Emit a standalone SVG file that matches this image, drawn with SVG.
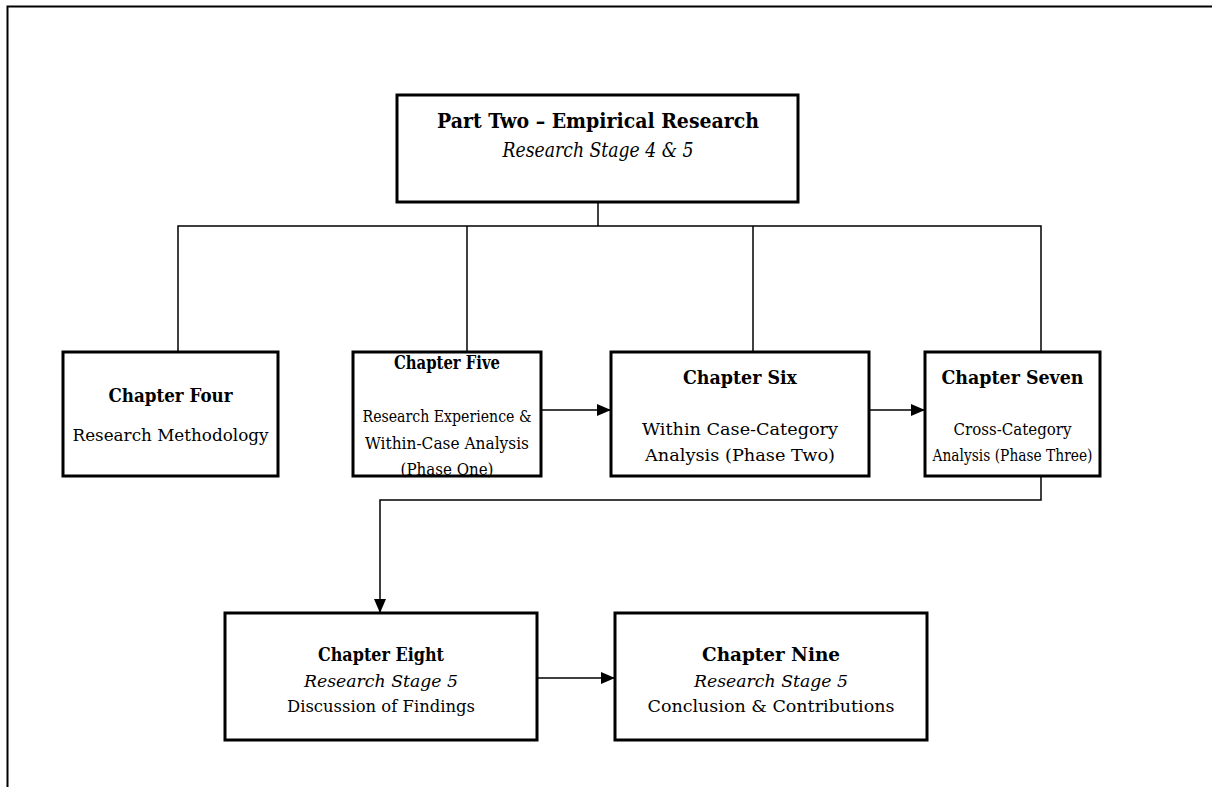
<svg xmlns="http://www.w3.org/2000/svg" width="1212" height="787" viewBox="0 0 1212 787">
  <style>
    .box { fill: #ffffff; stroke: #000000; stroke-width: 3; }
    .wire { fill: none; stroke: #000000; stroke-width: 1.5; }
    .frame { fill: none; stroke: #000000; stroke-width: 2; }
    text { font-family: "DejaVu Serif", "Liberation Serif", serif; fill: #000000; text-anchor: middle; }
    .h { font-weight: bold; font-size: 18px; }
    .t { font-size: 17.5px; }
    .i { font-style: italic; font-size: 17.5px; }
    .big { font-weight: bold; font-size: 20px; }
    .bigi { font-style: italic; font-size: 20px; }
  </style>
  <defs>
    <marker id="arrow" markerWidth="14" markerHeight="12" refX="14" refY="6" orient="auto" markerUnits="userSpaceOnUse">
      <path d="M0,0 L14,6 L0,12 Z" fill="#000000"/>
    </marker>
  </defs>

  <rect width="1212" height="787" fill="#ffffff"/>
  <!-- page frame -->
  <path class="frame" d="M7.5,787 V6.5 H1212"/>

  <!-- connectors -->
  <g id="connectors">
    <path class="wire" d="M598,202 V226"/>
    <path class="wire" d="M178,352 V226 H1041 V352"/>
    <path class="wire" d="M467,226 V352"/>
    <path class="wire" d="M753,226 V352"/>
    <path class="wire" d="M541,410 H611" marker-end="url(#arrow)"/>
    <path class="wire" d="M869,410 H925" marker-end="url(#arrow)"/>
    <path class="wire" d="M1041,476 V500 H380 V613" marker-end="url(#arrow)"/>
    <path class="wire" d="M537,678 H615" marker-end="url(#arrow)"/>
  </g>

  <g id="part-two">
    <rect class="box" x="397" y="95" width="401" height="107"/>
    <text class="big" x="598" y="128" textLength="322" lengthAdjust="spacingAndGlyphs">Part Two – Empirical Research</text>
    <text class="bigi" x="598" y="157" textLength="191" lengthAdjust="spacingAndGlyphs">Research Stage 4 &amp; 5</text>
  </g>

  <g id="chapter-four">
    <rect class="box" x="63" y="352" width="215" height="124"/>
    <text class="h" x="170.5" y="402" textLength="124" lengthAdjust="spacingAndGlyphs">Chapter Four</text>
    <text class="t" x="170.5" y="441" textLength="196" lengthAdjust="spacingAndGlyphs">Research Methodology</text>
  </g>

  <g id="chapter-five">
    <rect class="box" x="353" y="352" width="188" height="124"/>
    <text class="h" x="447" y="369" textLength="106" lengthAdjust="spacingAndGlyphs">Chapter Five</text>
    <text class="t" x="447" y="422" textLength="169" lengthAdjust="spacingAndGlyphs">Research Experience &amp;</text>
    <text class="t" x="447" y="449" textLength="164" lengthAdjust="spacingAndGlyphs">Within-Case Analysis</text>
    <text class="t" x="447" y="475" textLength="93" lengthAdjust="spacingAndGlyphs">(Phase One)</text>
  </g>

  <g id="chapter-six">
    <rect class="box" x="611" y="352" width="258" height="124"/>
    <text class="h" x="740" y="384" textLength="114" lengthAdjust="spacingAndGlyphs">Chapter Six</text>
    <text class="t" x="740" y="435" textLength="196" lengthAdjust="spacingAndGlyphs">Within Case-Category</text>
    <text class="t" x="740" y="461" textLength="190" lengthAdjust="spacingAndGlyphs">Analysis (Phase Two)</text>
  </g>

  <g id="chapter-seven">
    <rect class="box" x="925" y="352" width="175" height="124"/>
    <text class="h" x="1012.5" y="384" textLength="142" lengthAdjust="spacingAndGlyphs">Chapter Seven</text>
    <text class="t" x="1012.5" y="435" textLength="118" lengthAdjust="spacingAndGlyphs">Cross-Category</text>
    <text class="t" x="1012.5" y="461" textLength="160" lengthAdjust="spacingAndGlyphs">Analysis (Phase Three)</text>
  </g>

  <g id="chapter-eight">
    <rect class="box" x="225" y="613" width="312" height="127"/>
    <text class="h" x="381" y="661" textLength="126" lengthAdjust="spacingAndGlyphs">Chapter Eight</text>
    <text class="i" x="381" y="687" textLength="154" lengthAdjust="spacingAndGlyphs">Research Stage 5</text>
    <text class="t" x="381" y="712" textLength="188" lengthAdjust="spacingAndGlyphs">Discussion of Findings</text>
  </g>

  <g id="chapter-nine">
    <rect class="box" x="615" y="613" width="312" height="127"/>
    <text class="h" x="771" y="661" textLength="138" lengthAdjust="spacingAndGlyphs">Chapter Nine</text>
    <text class="i" x="771" y="687" textLength="154" lengthAdjust="spacingAndGlyphs">Research Stage 5</text>
    <text class="t" x="771" y="712" textLength="247" lengthAdjust="spacingAndGlyphs">Conclusion &amp; Contributions</text>
  </g>
</svg>
